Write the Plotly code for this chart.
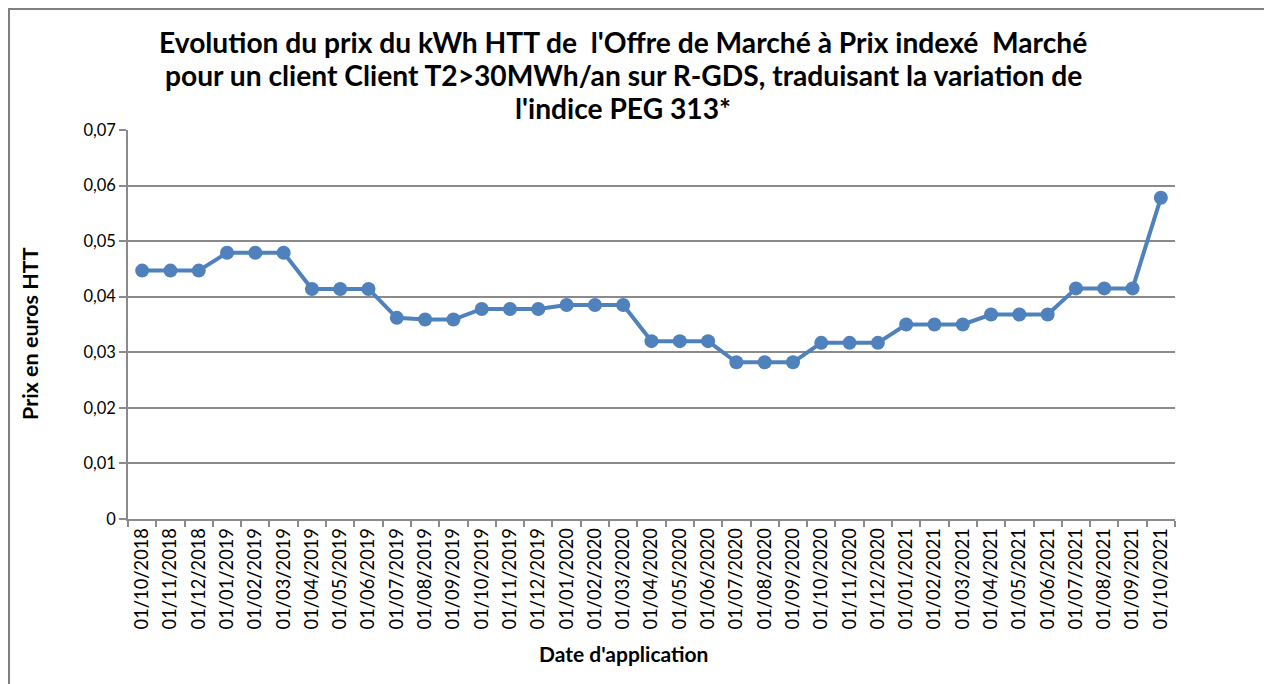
import plotly.graph_objects as go

dates = ["01/10/2018", "01/11/2018", "01/12/2018", "01/01/2019", "01/02/2019", "01/03/2019",
         "01/04/2019", "01/05/2019", "01/06/2019", "01/07/2019", "01/08/2019", "01/09/2019",
         "01/10/2019", "01/11/2019", "01/12/2019", "01/01/2020", "01/02/2020", "01/03/2020",
         "01/04/2020", "01/05/2020", "01/06/2020", "01/07/2020", "01/08/2020", "01/09/2020",
         "01/10/2020", "01/11/2020", "01/12/2020", "01/01/2021", "01/02/2021", "01/03/2021",
         "01/04/2021", "01/05/2021", "01/06/2021", "01/07/2021", "01/08/2021", "01/09/2021",
         "01/10/2021"]
prices = [0.0447, 0.0447, 0.0447, 0.0479, 0.0479, 0.0479,
          0.0414, 0.0414, 0.0414, 0.0362, 0.0359, 0.0359,
          0.0378, 0.0378, 0.0378, 0.0385, 0.0385, 0.0385,
          0.0320, 0.0320, 0.0320, 0.0282, 0.0282, 0.0282,
          0.0317, 0.0317, 0.0317, 0.0350, 0.0350, 0.0350,
          0.0368, 0.0368, 0.0368, 0.0415, 0.0415, 0.0415,
          0.0578]
y_ticks = [0, 0.01, 0.02, 0.03, 0.04, 0.05, 0.06, 0.07]
y_tick_labels = ["0", "0,01", "0,02", "0,03", "0,04", "0,05", "0,06", "0,07"]

title_lines = ["Evolution du prix du kWh HTT de  l'Offre de Marché à Prix indexé  Marché",
               "pour un client Client T2>30MWh/an sur R-GDS, traduisant la variation de",
               "l'indice PEG 313*"]

FONT = "Lato, 'Open Sans', sans-serif"
GRID = "#8a8a8a"

fig = go.Figure()
fig.add_trace(go.Scatter(
    x=dates, y=prices, mode="lines+markers",
    line=dict(color="#4F81BD", width=4),
    marker=dict(color="#4F81BD", size=14),
    showlegend=False,
))

# page is offset by the 8px body margin
OFF = 8
W, H = 1272 - OFF, 684 - OFF
L, T = 128 - OFF, 130 - OFF
R = W - (1175 - OFF)
B = H - (519 - OFF)
pw, ph = W - L - R, H - T - B

def px(x):
    return (x - OFF - L) / pw

def py(y):
    return (H - B - (y - OFF)) / ph

annotations = []
for i, line in enumerate(title_lines):
    annotations.append(dict(
        text="<b>" + line + "</b>", x=px(623), y=py(42 + 33 * i), xref="paper", yref="paper",
        showarrow=False, xanchor="center", yanchor="middle",
        font=dict(size=28.2, family=FONT)))
annotations.append(dict(
    text="<b>Date d'application</b>", x=px(623), y=py(653), xref="paper", yref="paper",
    showarrow=False, xanchor="center", yanchor="middle", font=dict(size=21, family=FONT)))
annotations.append(dict(
    text="<b>Prix en euros HTT</b>", x=px(30), y=py(334), xref="paper", yref="paper",
    showarrow=False, xanchor="center", yanchor="middle", textangle=-90,
    font=dict(size=21.5, family=FONT)))

fig.update_layout(
    width=W, height=H,
    margin=dict(l=L, r=R, t=T, b=B),
    paper_bgcolor="white", plot_bgcolor="white",
    font=dict(family=FONT, color="black", size=16),
    xaxis=dict(
        type="category", tickangle=-90, tickson="boundaries",
        ticks="outside", ticklen=6, tickcolor=GRID, tickwidth=1.5,
        showline=True, linecolor=GRID, linewidth=1.5,
        showgrid=False, tickfont=dict(size=18.3, family=FONT),
        range=[-0.5, len(dates) - 0.5], ticklabelstandoff=0,
    ),
    yaxis=dict(
        range=[0, 0.07], tickvals=y_ticks, ticktext=y_tick_labels,
        ticks="outside", ticklen=7, tickcolor=GRID, tickwidth=1.5,
        showline=True, linecolor=GRID, linewidth=1.5,
        showgrid=True, gridcolor=GRID, gridwidth=1.5,
        tickfont=dict(size=16.5, family=FONT), zeroline=False,
    ),
    annotations=annotations,
    shapes=[
        dict(type="line", xref="paper", yref="paper", x0=px(OFF), x1=px(1280), y0=py(OFF + 1), y1=py(OFF + 1),
             line=dict(color="#7f7f7f", width=2)),
        dict(type="line", xref="paper", yref="paper", x0=px(OFF + 1), x1=px(OFF + 1), y0=py(OFF), y1=py(700),
             line=dict(color="#7f7f7f", width=2)),
    ],
)

fig.write_html("out.html")
